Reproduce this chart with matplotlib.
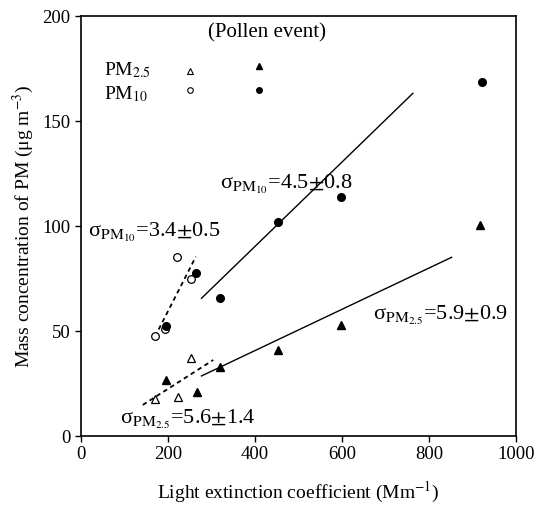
import numpy as np
import matplotlib.pyplot as plt

plt.rcParams['font.family'] = ['Liberation Serif', 'DejaVu Serif']
plt.rcParams['mathtext.fontset'] = 'stix'

# normal days
pm10_x = [170, 193, 220, 254]
pm10_y = [47.8, 51, 85.1, 74.8]
pm25_x = [170, 224, 254]
pm25_y = [17.5, 18.7, 37]

# pollen event
pm10_ev_x = [195, 264, 320, 453, 598, 921]
pm10_ev_y = [52.5, 77.8, 65.6, 102, 114, 168.7]
pm25_ev_x = [195, 266, 320, 453, 598, 917]
pm25_ev_y = [26.7, 20.8, 33, 41, 53, 100.5]

# regression lines (end points)
fit10_x, fit10_y = [277, 763], [65.6, 163.2]
fit10n_x, fit10n_y = [170, 264], [47.3, 85.4]
fit25_x, fit25_y = [277, 852], [28.6, 85.1]
fit25n_x, fit25n_y = [142, 304], [14.8, 36.2]

fig = plt.figure(figsize=(5.34, 5.08), dpi=100)
ax = fig.add_axes([0.1517, 0.1417, 0.8146, 0.8268])

ax.plot(fit10_x, fit10_y, color='black', lw=1)
ax.plot(fit25_x, fit25_y, color='black', lw=1)
ax.plot(fit10n_x, fit10n_y, color='black', lw=1.3, ls=(0, (2.5, 2)))
ax.plot(fit25n_x, fit25n_y, color='black', lw=1.3, ls=(0, (2.5, 2)))

ax.plot(pm10_x, pm10_y, 'o', mfc='white', mec='black', mew=0.9, ms=5.5)
ax.plot(pm25_x, pm25_y, '^', mfc='white', mec='black', mew=0.9, ms=6)
ax.plot(pm10_ev_x, pm10_ev_y, 'o', color='black', ms=5.5)
ax.plot(pm25_ev_x, pm25_ev_y, '^', color='black', ms=6)

# legend drawn by hand
ax.text(293, 192, '(Pollen event)', fontsize=15, va='center')
ax.text(53, 174, r'PM$_{2.5}$', fontsize=14, va='center')
ax.text(53, 163, r'PM$_{10}$', fontsize=14, va='center')
ax.plot([250], [174], '^', mfc='white', mec='black', mew=0.8, ms=5)
ax.plot([409], [176], '^', color='black', ms=5)
ax.plot([250], [165], 'o', mfc='white', mec='black', mew=0.8, ms=4)
ax.plot([409], [165], 'o', color='black', ms=4)

ax.text(320, 120, r'σ$_{\mathrm{PM}_{10}}$=4.5$\pm$0.8', fontsize=16, va='center')
ax.text(16, 97, r'σ$_{\mathrm{PM}_{10}}$=3.4$\pm$0.5', fontsize=16, va='center')
ax.text(671, 57.6, r'σ$_{\mathrm{PM}_{2.5}}$=5.9$\pm$0.9', fontsize=16, va='center')
ax.text(90, 8, r'σ$_{\mathrm{PM}_{2.5}}$=5.6$\pm$1.4', fontsize=16, va='center')

ax.set_xlim(0, 1000)
ax.set_ylim(0, 200)
ax.set_xticks([0, 200, 400, 600, 800, 1000])
ax.set_yticks([0, 50, 100, 150, 200])
ax.tick_params(direction='out', length=4, width=1, labelsize=13.5)
for s in ax.spines.values():
    s.set_linewidth(1.2)

ax.set_xlabel(r'Light extinction coefficient (Mm$^{-1}$)', fontsize=14, labelpad=12)
ax.set_ylabel(r'Mass concentration of PM (μg m$^{-3}$)', fontsize=14, labelpad=5)

fig.savefig('out.png', dpi=100)
